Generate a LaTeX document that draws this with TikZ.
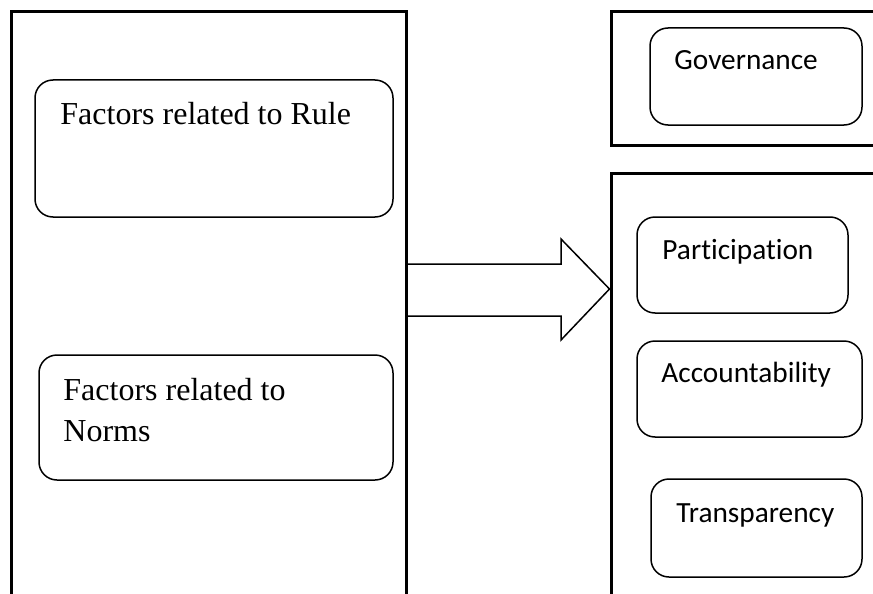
\documentclass[tikz,border=0pt]{standalone}
\usepackage{fontspec}
\setmainfont{Liberation Serif}
\newfontfamily\calibri[Ligatures=NoCommon]{Carlito}
\usetikzlibrary{calc,positioning}

\tikzset{
  frame/.style={draw,line width=3pt,inner sep=0pt},
  factor/.style={draw,line width=1.5pt,rounded corners=18pt,inner sep=0pt},
  serif/.style={font=\fontsize{32}{41}\selectfont,inner sep=0pt,align=left},
  sans/.style={font=\calibri\fontsize{29.3}{36}\selectfont,inner sep=0pt},
  blockarrow/.style={draw,line width=1.5pt,line join=miter}
}

\begin{document}
\begin{tikzpicture}[x=1pt,y=-1pt]
\useasboundingbox (0,0) rectangle (873,594);
\clip (0,0) rectangle (873,594);
% big frames, they run off the page on the right and at the bottom
\node[frame,minimum width=395pt,minimum height=608pt] (factors) at (208.5,316) {};
\node[frame,minimum width=289pt,minimum height=133pt] (top) at (755.5,78.5) {};
\node[frame,minimum width=289pt,minimum height=447pt] (governed) at (755.5,396.5) {};

% left side
\node[factor,minimum width=358pt,minimum height=137pt] (rule) at (214,148.5) {};
\node[serif,anchor=base west] (ruletext) at ($(rule.north west)+(26,45)$) {Factors related to Rule};
\node[factor,minimum width=354pt,minimum height=125pt] (norms) at (216,417.5) {};
% base of a two line node is the last line
\node[serif,anchor=base west] (normstext) at ($(norms.north west)+(25,87)$) {Factors related to\\Norms};

% right side, name/x/y/width/height/text offset
\foreach \name/\x/\y/\w/\h/\dx/\dy/\txt in {gov/756/76.5/212/97/25/42/Governance,
    part/742.5/265/211/96/26/43/Participation,
    acc/749.5/389/225/96/25/42/Accountability,
    trans/756.5/528/211/98/26/44/Transparency}{
  \node[factor,minimum width=\w pt,minimum height=\h pt] (\name) at (\x,\y) {};
  \node[sans,anchor=base west] (\name text) at ($(\name.north west)+(\dx,\dy)$) {\txt};
}

% the big arrow
\coordinate (tip) at (governed.west |- 0,289);
\draw[blockarrow] (factors.east |- 0,264) -- (561,264) -- (561,239) -- (tip)
  -- (561,340) -- (561,316) -- (factors.east |- 0,316);
\end{tikzpicture}
\end{document}
